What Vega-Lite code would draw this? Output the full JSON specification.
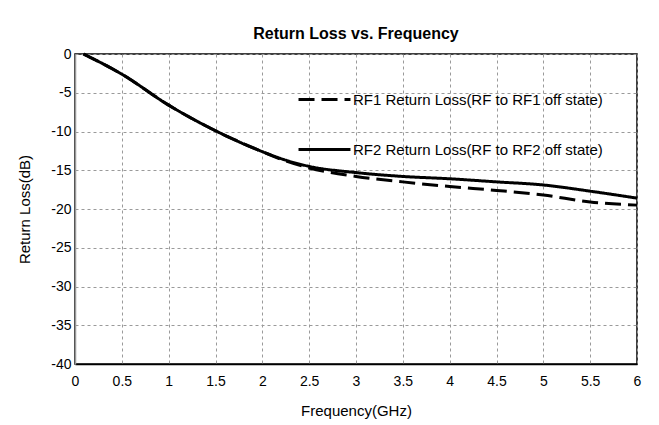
{
  "$schema": "https://vega.github.io/schema/vega-lite/v6.json",
  "autosize": "none",
  "padding": {"left": 75, "top": 54, "right": 22, "bottom": 61},
  "width": 562,
  "height": 310,
  "background": "white",
  "title": {"text": "Return Loss vs. Frequency", "font": "Liberation Sans", "fontSize": 16, "fontWeight": "bold", "color": "black", "offset": 5, "anchor": "middle"},
  "config": {
    "view": {"stroke": "black", "strokeWidth": 1.5},
    "axis": {"labelFont": "Liberation Sans", "titleFont": "Liberation Sans", "labelFontSize": 14, "titleFontSize": 15, "titleFontWeight": "normal", "labelColor": "black", "titleColor": "black", "ticks": false, "gridColor": "#9a9a9a", "gridDash": [3, 3], "gridWidth": 1, "domainColor": "black", "domainWidth": 1.5}
  },
  "data": {"values": [
    {"f": 0.09, "rl": 0.0, "s": "RF1 Return Loss(RF to RF1 off state)"},
    {"f": 0.5, "rl": -2.6, "s": "RF1 Return Loss(RF to RF1 off state)"},
    {"f": 1.0, "rl": -6.6, "s": "RF1 Return Loss(RF to RF1 off state)"},
    {"f": 1.5, "rl": -9.9, "s": "RF1 Return Loss(RF to RF1 off state)"},
    {"f": 2.0, "rl": -12.6, "s": "RF1 Return Loss(RF to RF1 off state)"},
    {"f": 2.25, "rl": -13.8, "s": "RF1 Return Loss(RF to RF1 off state)"},
    {"f": 2.5, "rl": -14.7, "s": "RF1 Return Loss(RF to RF1 off state)"},
    {"f": 3.0, "rl": -15.8, "s": "RF1 Return Loss(RF to RF1 off state)"},
    {"f": 3.5, "rl": -16.5, "s": "RF1 Return Loss(RF to RF1 off state)"},
    {"f": 4.0, "rl": -17.1, "s": "RF1 Return Loss(RF to RF1 off state)"},
    {"f": 4.5, "rl": -17.6, "s": "RF1 Return Loss(RF to RF1 off state)"},
    {"f": 5.0, "rl": -18.2, "s": "RF1 Return Loss(RF to RF1 off state)"},
    {"f": 5.5, "rl": -19.1, "s": "RF1 Return Loss(RF to RF1 off state)"},
    {"f": 6.0, "rl": -19.5, "s": "RF1 Return Loss(RF to RF1 off state)"},
    {"f": 0.09, "rl": 0.0, "s": "RF2 Return Loss(RF to RF2 off state)"},
    {"f": 0.5, "rl": -2.6, "s": "RF2 Return Loss(RF to RF2 off state)"},
    {"f": 1.0, "rl": -6.6, "s": "RF2 Return Loss(RF to RF2 off state)"},
    {"f": 1.5, "rl": -9.9, "s": "RF2 Return Loss(RF to RF2 off state)"},
    {"f": 2.0, "rl": -12.6, "s": "RF2 Return Loss(RF to RF2 off state)"},
    {"f": 2.25, "rl": -13.7, "s": "RF2 Return Loss(RF to RF2 off state)"},
    {"f": 2.5, "rl": -14.5, "s": "RF2 Return Loss(RF to RF2 off state)"},
    {"f": 3.0, "rl": -15.3, "s": "RF2 Return Loss(RF to RF2 off state)"},
    {"f": 3.5, "rl": -15.8, "s": "RF2 Return Loss(RF to RF2 off state)"},
    {"f": 4.0, "rl": -16.1, "s": "RF2 Return Loss(RF to RF2 off state)"},
    {"f": 4.5, "rl": -16.5, "s": "RF2 Return Loss(RF to RF2 off state)"},
    {"f": 5.0, "rl": -16.9, "s": "RF2 Return Loss(RF to RF2 off state)"},
    {"f": 5.5, "rl": -17.7, "s": "RF2 Return Loss(RF to RF2 off state)"},
    {"f": 6.0, "rl": -18.6, "s": "RF2 Return Loss(RF to RF2 off state)"}
  ]},
  "mark": {"type": "line", "interpolate": "monotone", "strokeWidth": 3, "color": "black"},
  "encoding": {
    "x": {"field": "f", "type": "quantitative", "scale": {"domain": [0, 6], "nice": false}, "axis": {"values": [0, 0.5, 1, 1.5, 2, 2.5, 3, 3.5, 4, 4.5, 5, 5.5, 6], "labelExpr": "'' + datum.value", "title": "Frequency(GHz)", "labelPadding": 10, "titlePadding": 15, "labelFlush": false}},
    "y": {"field": "rl", "type": "quantitative", "scale": {"domain": [-40, 0], "nice": false}, "axis": {"values": [0, -5, -10, -15, -20, -25, -30, -35, -40], "labelExpr": "'' + datum.value", "title": "Return Loss(dB)", "labelPadding": 4, "titlePadding": 18, "domainColor": "#999999"}},
    "strokeDash": {"field": "s", "type": "nominal", "scale": {"range": [[16, 7], [1, 0]]}, "legend": {"title": null, "orient": "none", "legendX": 222, "legendY": 18, "symbolType": "stroke", "symbolSize": 2700, "symbolStrokeWidth": 3, "symbolStrokeColor": "black", "labelFont": "Liberation Sans", "labelFontSize": 15, "labelColor": "black", "labelOffset": 1, "rowPadding": 14, "labelLimit": 400}},
    "detail": {"field": "s"}
  }
}
